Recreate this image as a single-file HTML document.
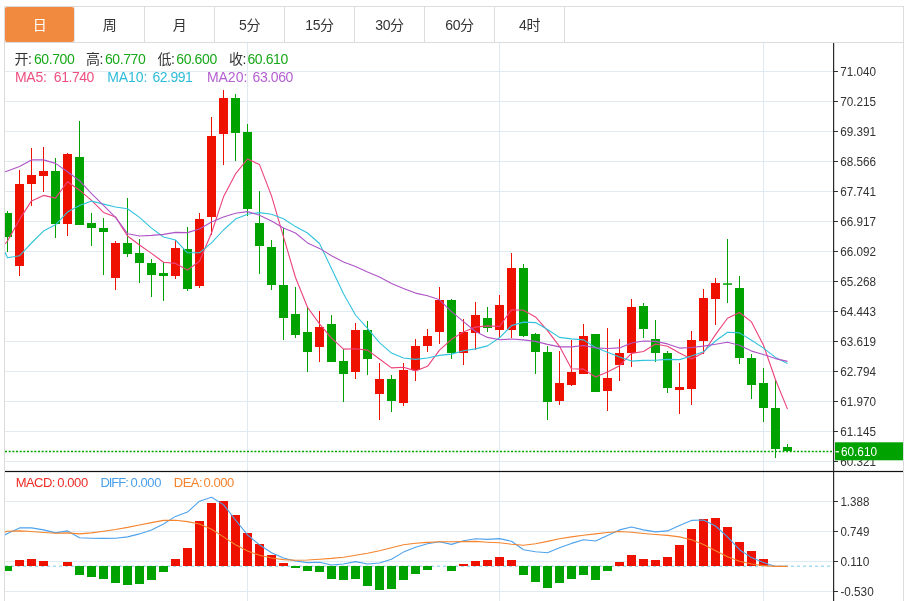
<!DOCTYPE html>
<html lang="zh"><head><meta charset="utf-8"><title>K线图</title>
<style>
html,body{margin:0;padding:0;background:#fff;}
body{width:909px;height:601px;overflow:hidden;position:relative;font-family:"Liberation Sans","Noto Sans CJK SC",sans-serif;}
svg{position:absolute;left:0;top:0;display:block}
text{font-family:"Liberation Sans","Noto Sans CJK SC",sans-serif;}
.ax{font-size:13px;fill:#333}
.tab{font-size:14px;fill:#333;text-anchor:middle;letter-spacing:-0.4px}
.l1{font-size:14px;letter-spacing:-0.4px}
.l3{font-size:13px;letter-spacing:-0.4px}
</style></head><body>
<svg width="909" height="601" viewBox="0 0 909 601">
<g shape-rendering="crispEdges">
<rect x="4" y="6" width="900" height="1" fill="#dcdcdc"/>
<rect x="4" y="6" width="1" height="595" fill="#dcdcdc"/>
<rect x="903" y="6" width="1" height="595" fill="#dcdcdc"/>
<rect x="5" y="42" width="898" height="1" fill="#dcdcdc"/>
<rect x="144" y="7" width="1" height="35" fill="#dcdcdc"/>
<rect x="214" y="7" width="1" height="35" fill="#dcdcdc"/>
<rect x="284" y="7" width="1" height="35" fill="#dcdcdc"/>
<rect x="354" y="7" width="1" height="35" fill="#dcdcdc"/>
<rect x="424" y="7" width="1" height="35" fill="#dcdcdc"/>
<rect x="494" y="7" width="1" height="35" fill="#dcdcdc"/>
<rect x="564" y="7" width="1" height="35" fill="#dcdcdc"/>
</g>
<rect x="74" y="7" width="1" height="35" fill="#e4e4e4" shape-rendering="crispEdges"/>
<rect x="5" y="7" width="69" height="35" rx="2" ry="2" fill="#f18a3e"/>
<text class="tab" x="39.5" y="30" fill="#fff" style="fill:#fff">日</text>
<text class="tab" x="109.5" y="30" fill="#333" style="fill:#333">周</text>
<text class="tab" x="179.5" y="30" fill="#333" style="fill:#333">月</text>
<text class="tab" x="249.5" y="30" fill="#333" style="fill:#333">5分</text>
<text class="tab" x="319.5" y="30" fill="#333" style="fill:#333">15分</text>
<text class="tab" x="389.5" y="30" fill="#333" style="fill:#333">30分</text>
<text class="tab" x="459.5" y="30" fill="#333" style="fill:#333">60分</text>
<text class="tab" x="529.5" y="30" fill="#333" style="fill:#333">4时</text>
<g shape-rendering="crispEdges" fill="#dfeaf2">
<rect x="5" y="71" width="828" height="1"/>
<rect x="5" y="101" width="828" height="1"/>
<rect x="5" y="131" width="828" height="1"/>
<rect x="5" y="161" width="828" height="1"/>
<rect x="5" y="191" width="828" height="1"/>
<rect x="5" y="221" width="828" height="1"/>
<rect x="5" y="251" width="828" height="1"/>
<rect x="5" y="281" width="828" height="1"/>
<rect x="5" y="311" width="828" height="1"/>
<rect x="5" y="341" width="828" height="1"/>
<rect x="5" y="371" width="828" height="1"/>
<rect x="5" y="401" width="828" height="1"/>
<rect x="5" y="431" width="828" height="1"/>
<rect x="5" y="461" width="828" height="1"/>
<rect x="5" y="501" width="828" height="1"/>
<rect x="5" y="531" width="828" height="1"/>
<rect x="5" y="561" width="828" height="1"/>
<rect x="5" y="591" width="828" height="1"/>
<rect x="247" y="43" width="1" height="558"/>
<rect x="499" y="43" width="1" height="558"/>
<rect x="763" y="43" width="1" height="558"/>
</g>
<defs><clipPath id="c"><rect x="5" y="43" width="828" height="558"/></clipPath></defs>
<g clip-path="url(#c)">
<line x1="5" y1="566.2" x2="833" y2="566.2" stroke="#a6d9f2" stroke-width="1.5" stroke-dasharray="3,3"/>
<g shape-rendering="crispEdges">
<rect x="7" y="211" width="1" height="41" fill="#00a200"/><rect x="3" y="213" width="9" height="24" fill="#00a200"/>
<rect x="19" y="170" width="1" height="106" fill="#ee1100"/><rect x="15" y="184" width="9" height="82" fill="#ee1100"/>
<rect x="31" y="148" width="1" height="58" fill="#ee1100"/><rect x="27" y="175" width="9" height="9" fill="#ee1100"/>
<rect x="43" y="147" width="1" height="45" fill="#ee1100"/><rect x="39" y="171" width="9" height="5" fill="#ee1100"/>
<rect x="55" y="158" width="1" height="80" fill="#00a200"/><rect x="51" y="171" width="9" height="53" fill="#00a200"/>
<rect x="67" y="153" width="1" height="83" fill="#ee1100"/><rect x="63" y="154" width="9" height="70" fill="#ee1100"/>
<rect x="79" y="121" width="1" height="104" fill="#00a200"/><rect x="75" y="157" width="9" height="68" fill="#00a200"/>
<rect x="91" y="213" width="1" height="33" fill="#00a200"/><rect x="87" y="223" width="9" height="5" fill="#00a200"/>
<rect x="103" y="218" width="1" height="57" fill="#00a200"/><rect x="99" y="228" width="9" height="4" fill="#00a200"/>
<rect x="115" y="241" width="1" height="49" fill="#ee1100"/><rect x="111" y="243" width="9" height="35" fill="#ee1100"/>
<rect x="127" y="198" width="1" height="59" fill="#00a200"/><rect x="123" y="243" width="9" height="11" fill="#00a200"/>
<rect x="139" y="239" width="1" height="44" fill="#00a200"/><rect x="135" y="253" width="9" height="10" fill="#00a200"/>
<rect x="151" y="259" width="1" height="38" fill="#00a200"/><rect x="147" y="263" width="9" height="12" fill="#00a200"/>
<rect x="163" y="262" width="1" height="39" fill="#00a200"/><rect x="159" y="273" width="9" height="3" fill="#00a200"/>
<rect x="175" y="240" width="1" height="39" fill="#ee1100"/><rect x="171" y="248" width="9" height="28" fill="#ee1100"/>
<rect x="187" y="227" width="1" height="64" fill="#00a200"/><rect x="183" y="249" width="9" height="40" fill="#00a200"/>
<rect x="199" y="213" width="1" height="75" fill="#ee1100"/><rect x="195" y="219" width="9" height="67" fill="#ee1100"/>
<rect x="211" y="117" width="1" height="118" fill="#ee1100"/><rect x="207" y="136" width="9" height="81" fill="#ee1100"/>
<rect x="223" y="90" width="1" height="75" fill="#ee1100"/><rect x="219" y="98" width="9" height="36" fill="#ee1100"/>
<rect x="235" y="94" width="1" height="67" fill="#00a200"/><rect x="231" y="98" width="9" height="35" fill="#00a200"/>
<rect x="247" y="124" width="1" height="92" fill="#00a200"/><rect x="243" y="132" width="9" height="77" fill="#00a200"/>
<rect x="259" y="191" width="1" height="83" fill="#00a200"/><rect x="255" y="223" width="9" height="23" fill="#00a200"/>
<rect x="271" y="240" width="1" height="50" fill="#00a200"/><rect x="267" y="247" width="9" height="38" fill="#00a200"/>
<rect x="283" y="228" width="1" height="112" fill="#00a200"/><rect x="279" y="285" width="9" height="33" fill="#00a200"/>
<rect x="295" y="287" width="1" height="51" fill="#00a200"/><rect x="291" y="314" width="9" height="21" fill="#00a200"/>
<rect x="307" y="307" width="1" height="65" fill="#00a200"/><rect x="303" y="332" width="9" height="20" fill="#00a200"/>
<rect x="319" y="311" width="1" height="51" fill="#ee1100"/><rect x="315" y="327" width="9" height="20" fill="#ee1100"/>
<rect x="331" y="315" width="1" height="47" fill="#00a200"/><rect x="327" y="324" width="9" height="38" fill="#00a200"/>
<rect x="343" y="349" width="1" height="53" fill="#00a200"/><rect x="339" y="361" width="9" height="13" fill="#00a200"/>
<rect x="355" y="323" width="1" height="56" fill="#ee1100"/><rect x="351" y="330" width="9" height="42" fill="#ee1100"/>
<rect x="367" y="321" width="1" height="54" fill="#00a200"/><rect x="363" y="330" width="9" height="29" fill="#00a200"/>
<rect x="379" y="363" width="1" height="57" fill="#ee1100"/><rect x="375" y="379" width="9" height="15" fill="#ee1100"/>
<rect x="391" y="375" width="1" height="37" fill="#00a200"/><rect x="387" y="379" width="9" height="22" fill="#00a200"/>
<rect x="403" y="363" width="1" height="43" fill="#ee1100"/><rect x="399" y="370" width="9" height="33" fill="#ee1100"/>
<rect x="415" y="339" width="1" height="42" fill="#ee1100"/><rect x="411" y="346" width="9" height="24" fill="#ee1100"/>
<rect x="427" y="329" width="1" height="23" fill="#ee1100"/><rect x="423" y="336" width="9" height="10" fill="#ee1100"/>
<rect x="439" y="287" width="1" height="57" fill="#ee1100"/><rect x="435" y="300" width="9" height="32" fill="#ee1100"/>
<rect x="451" y="299" width="1" height="60" fill="#00a200"/><rect x="447" y="300" width="9" height="53" fill="#00a200"/>
<rect x="463" y="319" width="1" height="46" fill="#ee1100"/><rect x="459" y="332" width="9" height="21" fill="#ee1100"/>
<rect x="475" y="302" width="1" height="48" fill="#ee1100"/><rect x="471" y="315" width="9" height="18" fill="#ee1100"/>
<rect x="487" y="307" width="1" height="25" fill="#00a200"/><rect x="483" y="318" width="9" height="10" fill="#00a200"/>
<rect x="499" y="295" width="1" height="43" fill="#ee1100"/><rect x="495" y="305" width="9" height="25" fill="#ee1100"/>
<rect x="511" y="253" width="1" height="85" fill="#ee1100"/><rect x="507" y="268" width="9" height="62" fill="#ee1100"/>
<rect x="523" y="264" width="1" height="73" fill="#00a200"/><rect x="519" y="268" width="9" height="68" fill="#00a200"/>
<rect x="535" y="333" width="1" height="41" fill="#00a200"/><rect x="531" y="334" width="9" height="18" fill="#00a200"/>
<rect x="547" y="346" width="1" height="74" fill="#00a200"/><rect x="543" y="352" width="9" height="50" fill="#00a200"/>
<rect x="559" y="351" width="1" height="54" fill="#ee1100"/><rect x="555" y="383" width="9" height="18" fill="#ee1100"/>
<rect x="571" y="340" width="1" height="46" fill="#ee1100"/><rect x="567" y="372" width="9" height="13" fill="#ee1100"/>
<rect x="583" y="324" width="1" height="50" fill="#ee1100"/><rect x="579" y="336" width="9" height="38" fill="#ee1100"/>
<rect x="595" y="334" width="1" height="58" fill="#00a200"/><rect x="591" y="334" width="9" height="58" fill="#00a200"/>
<rect x="607" y="328" width="1" height="83" fill="#ee1100"/><rect x="603" y="378" width="9" height="13" fill="#ee1100"/>
<rect x="619" y="339" width="1" height="42" fill="#ee1100"/><rect x="615" y="353" width="9" height="12" fill="#ee1100"/>
<rect x="631" y="299" width="1" height="68" fill="#ee1100"/><rect x="627" y="307" width="9" height="46" fill="#ee1100"/>
<rect x="643" y="303" width="1" height="35" fill="#00a200"/><rect x="639" y="306" width="9" height="23" fill="#00a200"/>
<rect x="655" y="320" width="1" height="42" fill="#00a200"/><rect x="651" y="339" width="9" height="14" fill="#00a200"/>
<rect x="667" y="351" width="1" height="42" fill="#00a200"/><rect x="663" y="353" width="9" height="35" fill="#00a200"/>
<rect x="679" y="363" width="1" height="51" fill="#ee1100"/><rect x="675" y="387" width="9" height="3" fill="#ee1100"/>
<rect x="691" y="331" width="1" height="74" fill="#ee1100"/><rect x="687" y="340" width="9" height="49" fill="#ee1100"/>
<rect x="703" y="289" width="1" height="65" fill="#ee1100"/><rect x="699" y="298" width="9" height="43" fill="#ee1100"/>
<rect x="715" y="278" width="1" height="47" fill="#ee1100"/><rect x="711" y="283" width="9" height="16" fill="#ee1100"/>
</g><rect x="723" y="283.3" width="9" height="1.5" fill="#00a200"/><g shape-rendering="crispEdges">
<rect x="727" y="239" width="1" height="64" fill="#00a200"/>
<rect x="739" y="276" width="1" height="88" fill="#00a200"/><rect x="735" y="288" width="9" height="70" fill="#00a200"/>
<rect x="751" y="354" width="1" height="45" fill="#00a200"/><rect x="747" y="358" width="9" height="27" fill="#00a200"/>
<rect x="763" y="368" width="1" height="54" fill="#00a200"/><rect x="759" y="383" width="9" height="25" fill="#00a200"/>
<rect x="775" y="380" width="1" height="78" fill="#00a200"/><rect x="771" y="408" width="9" height="41" fill="#00a200"/>
<rect x="787" y="444" width="1" height="8" fill="#00a200"/><rect x="783" y="447" width="9" height="4" fill="#00a200"/>
<rect x="3" y="566" width="9" height="5" fill="#00a200"/>
<rect x="15" y="560" width="9" height="6" fill="#ee1100"/>
<rect x="27" y="559" width="9" height="7" fill="#ee1100"/>
<rect x="39" y="561" width="9" height="5" fill="#ee1100"/>
<rect x="63" y="562" width="9" height="4" fill="#ee1100"/>
<rect x="75" y="566" width="9" height="9" fill="#00a200"/>
<rect x="87" y="566" width="9" height="11" fill="#00a200"/>
<rect x="99" y="566" width="9" height="13" fill="#00a200"/>
<rect x="111" y="566" width="9" height="17" fill="#00a200"/>
<rect x="123" y="566" width="9" height="19" fill="#00a200"/>
<rect x="135" y="566" width="9" height="18" fill="#00a200"/>
<rect x="147" y="566" width="9" height="14" fill="#00a200"/>
<rect x="159" y="566" width="9" height="6" fill="#00a200"/>
<rect x="171" y="559" width="9" height="7" fill="#ee1100"/>
<rect x="183" y="548" width="9" height="18" fill="#ee1100"/>
<rect x="195" y="521" width="9" height="45" fill="#ee1100"/>
<rect x="207" y="503" width="9" height="63" fill="#ee1100"/>
<rect x="219" y="501" width="9" height="65" fill="#ee1100"/>
<rect x="231" y="515" width="9" height="51" fill="#ee1100"/>
<rect x="243" y="533" width="9" height="33" fill="#ee1100"/>
<rect x="255" y="544" width="9" height="22" fill="#ee1100"/>
<rect x="267" y="555" width="9" height="11" fill="#ee1100"/>
<rect x="279" y="563" width="9" height="3" fill="#ee1100"/>
<rect x="291" y="566" width="9" height="2" fill="#00a200"/>
<rect x="303" y="566" width="9" height="5" fill="#00a200"/>
<rect x="315" y="566" width="9" height="6" fill="#00a200"/>
<rect x="327" y="566" width="9" height="13" fill="#00a200"/>
<rect x="339" y="566" width="9" height="14" fill="#00a200"/>
<rect x="351" y="566" width="9" height="13" fill="#00a200"/>
<rect x="363" y="566" width="9" height="20" fill="#00a200"/>
<rect x="375" y="566" width="9" height="24" fill="#00a200"/>
<rect x="387" y="566" width="9" height="23" fill="#00a200"/>
<rect x="399" y="566" width="9" height="14" fill="#00a200"/>
<rect x="411" y="566" width="9" height="8" fill="#00a200"/>
<rect x="423" y="566" width="9" height="4" fill="#00a200"/>
<rect x="447" y="566" width="9" height="5" fill="#00a200"/>
<rect x="459" y="564" width="9" height="2" fill="#ee1100"/>
<rect x="471" y="561" width="9" height="5" fill="#ee1100"/>
<rect x="483" y="560" width="9" height="6" fill="#ee1100"/>
<rect x="495" y="557" width="9" height="9" fill="#ee1100"/>
<rect x="507" y="560" width="9" height="6" fill="#ee1100"/>
<rect x="519" y="566" width="9" height="9" fill="#00a200"/>
<rect x="531" y="566" width="9" height="16" fill="#00a200"/>
<rect x="543" y="566" width="9" height="22" fill="#00a200"/>
<rect x="555" y="566" width="9" height="17" fill="#00a200"/>
<rect x="567" y="566" width="9" height="13" fill="#00a200"/>
<rect x="579" y="566" width="9" height="9" fill="#00a200"/>
<rect x="591" y="566" width="9" height="14" fill="#00a200"/>
<rect x="603" y="566" width="9" height="5" fill="#00a200"/>
<rect x="615" y="562" width="9" height="4" fill="#ee1100"/>
<rect x="627" y="555" width="9" height="11" fill="#ee1100"/>
<rect x="639" y="559" width="9" height="7" fill="#ee1100"/>
<rect x="651" y="560" width="9" height="6" fill="#ee1100"/>
<rect x="663" y="557" width="9" height="9" fill="#ee1100"/>
<rect x="675" y="545" width="9" height="21" fill="#ee1100"/>
<rect x="687" y="529" width="9" height="37" fill="#ee1100"/>
<rect x="699" y="519" width="9" height="47" fill="#ee1100"/>
<rect x="711" y="518" width="9" height="48" fill="#ee1100"/>
<rect x="723" y="527" width="9" height="39" fill="#ee1100"/>
<rect x="735" y="542" width="9" height="24" fill="#ee1100"/>
<rect x="747" y="551" width="9" height="15" fill="#ee1100"/>
<rect x="759" y="559" width="9" height="7" fill="#ee1100"/>
</g>
<polyline points="5.0,244.0 7.5,241.0 19.5,219.4 31.5,200.9 43.5,195.4 55.5,198.1 67.5,181.7 79.5,190.2 91.5,200.4 103.5,212.4 115.5,216.9 127.5,236.0 139.5,245.0 151.5,253.4 163.5,262.2 175.5,263.4 187.5,270.0 199.5,261.3 211.5,233.0 223.5,196.8 235.5,173.9 247.5,159.0 259.5,164.6 271.5,195.9 283.5,236.9 295.5,277.5 307.5,307.2 319.5,323.9 331.5,338.2 343.5,349.1 355.5,348.7 367.5,350.1 379.5,359.0 391.5,367.9 403.5,367.3 415.5,370.9 427.5,366.3 439.5,350.2 451.5,339.3 463.5,331.9 475.5,327.1 487.5,325.9 499.5,326.5 511.5,309.7 523.5,310.3 535.5,316.9 547.5,330.7 559.5,346.3 571.5,368.7 583.5,369.1 595.5,377.0 607.5,372.1 619.5,365.7 631.5,353.4 643.5,351.5 655.5,344.0 667.5,346.2 679.5,353.0 691.5,359.0 703.5,352.7 715.5,334.6 727.5,318.2 739.5,312.5 751.5,321.9 763.5,345.2 775.5,379.8 787.5,409.1" fill="none" stroke="#ec427c" stroke-width="1.1" stroke-linejoin="round"/>
<polyline points="5.0,252.3 7.5,257.8 19.5,255.8 31.5,243.0 43.5,231.1 55.5,224.8 67.5,212.1 79.5,205.4 91.5,201.1 103.5,204.1 115.5,207.0 127.5,208.7 139.5,217.4 151.5,228.1 163.5,237.0 175.5,240.0 187.5,252.8 199.5,252.8 211.5,242.9 223.5,230.0 235.5,219.1 247.5,214.2 259.5,212.6 271.5,214.2 283.5,218.7 295.5,226.6 307.5,233.0 319.5,243.5 331.5,268.6 343.5,293.8 355.5,315.0 367.5,328.4 379.5,342.6 391.5,353.1 403.5,358.0 415.5,359.4 427.5,358.0 439.5,355.4 451.5,354.1 463.5,350.7 475.5,348.9 487.5,345.9 499.5,337.8 511.5,325.6 523.5,322.1 535.5,322.6 547.5,329.5 559.5,337.4 571.5,338.9 583.5,339.9 595.5,347.5 607.5,352.3 619.5,357.1 631.5,361.1 643.5,360.4 655.5,360.3 667.5,359.4 679.5,359.6 691.5,356.0 703.5,351.7 715.5,341.0 727.5,332.3 739.5,332.9 751.5,340.2 763.5,348.1 775.5,357.4 787.5,363.6" fill="none" stroke="#32c3dd" stroke-width="1.1" stroke-linejoin="round"/>
<polyline points="5.0,171.8 7.5,170.9 19.5,166.4 31.5,159.9 43.5,159.9 55.5,163.4 67.5,171.8 79.5,180.7 91.5,193.6 103.5,205.4 115.5,217.4 127.5,233.7 139.5,236.0 151.5,235.4 163.5,234.4 175.5,232.4 187.5,232.6 199.5,229.0 211.5,222.1 223.5,217.1 235.5,213.2 247.5,211.6 259.5,215.2 271.5,221.1 283.5,228.0 295.5,233.0 307.5,242.9 319.5,248.4 331.5,255.7 343.5,262.1 355.5,266.6 367.5,272.1 379.5,277.0 391.5,283.6 403.5,288.5 415.5,293.1 427.5,295.8 439.5,299.8 451.5,311.7 463.5,321.6 475.5,331.5 487.5,337.4 499.5,339.8 511.5,339.0 523.5,339.9 535.5,341.4 547.5,344.4 559.5,346.9 571.5,346.9 583.5,345.5 595.5,347.9 607.5,348.5 619.5,347.9 631.5,343.0 643.5,341.0 655.5,341.4 667.5,343.9 679.5,348.1 691.5,347.5 703.5,346.1 715.5,344.2 727.5,342.2 739.5,345.2 751.5,351.1 763.5,354.5 775.5,358.6 787.5,361.4" fill="none" stroke="#ae55c6" stroke-width="1.1" stroke-linejoin="round"/>
<polyline points="5.0,534.9 7.5,533.5 19.5,527.9 31.5,527.9 43.5,529.9 55.5,532.9 67.5,530.9 79.5,537.8 91.5,538.2 103.5,538.4 115.5,538.2 127.5,536.9 139.5,533.9 151.5,529.9 163.5,524.0 175.5,516.4 187.5,512.1 199.5,501.2 211.5,497.3 223.5,504.6 235.5,520.0 247.5,534.9 259.5,544.8 271.5,552.7 283.5,558.0 295.5,561.0 307.5,562.6 319.5,562.2 331.5,565.0 343.5,564.0 355.5,561.6 367.5,564.0 379.5,563.0 391.5,559.2 403.5,552.1 415.5,547.2 427.5,543.8 439.5,541.8 451.5,544.4 463.5,540.8 475.5,538.8 487.5,539.4 499.5,538.6 511.5,541.2 523.5,549.7 535.5,551.7 547.5,552.7 559.5,547.7 571.5,543.4 583.5,539.8 595.5,541.0 607.5,535.5 619.5,529.9 631.5,527.0 643.5,529.9 655.5,531.9 667.5,530.9 679.5,525.4 691.5,520.4 703.5,520.0 715.5,526.0 727.5,536.9 739.5,549.7 751.5,557.6 763.5,562.6 775.5,566.4 787.5,566.4" fill="none" stroke="#4ea2ec" stroke-width="1.1" stroke-linejoin="round"/>
<polyline points="5.0,531.9 7.5,531.3 19.5,530.9 31.5,531.5 43.5,532.5 55.5,533.3 67.5,532.9 79.5,533.9 91.5,532.9 103.5,531.3 115.5,529.5 127.5,527.4 139.5,525.0 151.5,522.6 163.5,520.4 175.5,520.2 187.5,521.6 199.5,524.0 211.5,529.3 223.5,536.9 235.5,544.8 247.5,551.1 259.5,555.3 271.5,558.0 283.5,559.6 295.5,560.2 307.5,560.0 319.5,559.2 331.5,558.4 343.5,557.2 355.5,555.3 367.5,553.3 379.5,550.7 391.5,547.7 403.5,544.8 415.5,543.2 427.5,542.4 439.5,541.8 451.5,541.8 463.5,541.6 475.5,541.4 487.5,542.2 499.5,542.8 511.5,544.2 523.5,545.2 535.5,543.8 547.5,541.4 559.5,538.8 571.5,536.9 583.5,535.3 595.5,533.9 607.5,532.5 619.5,531.5 631.5,532.3 643.5,533.5 655.5,534.5 667.5,535.4 679.5,536.9 691.5,539.8 703.5,544.4 715.5,550.7 727.5,556.7 739.5,561.2 751.5,564.0 763.5,565.6 775.5,566.4 787.5,566.4" fill="none" stroke="#f5842e" stroke-width="1.1" stroke-linejoin="round"/>
</g>
<line x1="5" y1="451.5" x2="832" y2="451.5" stroke="#00a200" stroke-width="1.35" stroke-dasharray="2,1.667"/>
<g shape-rendering="crispEdges">
</g><rect x="5" y="470.9" width="898" height="1.2" fill="#111"/><g shape-rendering="crispEdges">
</g><rect x="833" y="43" width="1.2" height="558" fill="#2a2a2a"/><g shape-rendering="crispEdges">
<rect x="834" y="71" width="4" height="1" fill="#333"/>
<rect x="834" y="101" width="4" height="1" fill="#333"/>
<rect x="834" y="131" width="4" height="1" fill="#333"/>
<rect x="834" y="161" width="4" height="1" fill="#333"/>
<rect x="834" y="191" width="4" height="1" fill="#333"/>
<rect x="834" y="221" width="4" height="1" fill="#333"/>
<rect x="834" y="251" width="4" height="1" fill="#333"/>
<rect x="834" y="281" width="4" height="1" fill="#333"/>
<rect x="834" y="311" width="4" height="1" fill="#333"/>
<rect x="834" y="341" width="4" height="1" fill="#333"/>
<rect x="834" y="371" width="4" height="1" fill="#333"/>
<rect x="834" y="401" width="4" height="1" fill="#333"/>
<rect x="834" y="431" width="4" height="1" fill="#333"/>
<rect x="834" y="461" width="4" height="1" fill="#333"/>
<rect x="834" y="501" width="4" height="1" fill="#333"/>
<rect x="834" y="531" width="4" height="1" fill="#333"/>
<rect x="834" y="561" width="4" height="1" fill="#333"/>
<rect x="834" y="591" width="4" height="1" fill="#333"/>
</g>
<text class="ax" x="840.3" y="75.8" textLength="35.8" lengthAdjust="spacingAndGlyphs">71.040</text>
<text class="ax" x="840.3" y="105.8" textLength="35.8" lengthAdjust="spacingAndGlyphs">70.215</text>
<text class="ax" x="840.3" y="135.8" textLength="35.8" lengthAdjust="spacingAndGlyphs">69.391</text>
<text class="ax" x="840.3" y="165.8" textLength="35.8" lengthAdjust="spacingAndGlyphs">68.566</text>
<text class="ax" x="840.3" y="195.8" textLength="35.8" lengthAdjust="spacingAndGlyphs">67.741</text>
<text class="ax" x="840.3" y="225.8" textLength="35.8" lengthAdjust="spacingAndGlyphs">66.917</text>
<text class="ax" x="840.3" y="255.8" textLength="35.8" lengthAdjust="spacingAndGlyphs">66.092</text>
<text class="ax" x="840.3" y="285.8" textLength="35.8" lengthAdjust="spacingAndGlyphs">65.268</text>
<text class="ax" x="840.3" y="315.8" textLength="35.8" lengthAdjust="spacingAndGlyphs">64.443</text>
<text class="ax" x="840.3" y="345.8" textLength="35.8" lengthAdjust="spacingAndGlyphs">63.619</text>
<text class="ax" x="840.3" y="375.8" textLength="35.8" lengthAdjust="spacingAndGlyphs">62.794</text>
<text class="ax" x="840.3" y="405.8" textLength="35.8" lengthAdjust="spacingAndGlyphs">61.970</text>
<text class="ax" x="840.3" y="435.8" textLength="35.8" lengthAdjust="spacingAndGlyphs">61.145</text>
<text class="ax" x="840.3" y="465.8" textLength="35.8" lengthAdjust="spacingAndGlyphs">60.321</text>
<text class="ax" x="840.4" y="505.8" textLength="29" lengthAdjust="spacingAndGlyphs">1.388</text>
<text class="ax" x="840.4" y="535.8" textLength="29" lengthAdjust="spacingAndGlyphs">0.749</text>
<text class="ax" x="840.4" y="565.8" textLength="29" lengthAdjust="spacingAndGlyphs">0.110</text>
<text class="ax" x="840.4" y="595.8" textLength="33.3" lengthAdjust="spacingAndGlyphs">-0.530</text>
<rect x="835" y="442.3" width="68" height="18" fill="#00a200"/>
<rect x="835.5" y="451.1" width="3.5" height="1.3" fill="#fff"/>
<text class="ax" x="841" y="456" style="fill:#fff" textLength="36" lengthAdjust="spacingAndGlyphs">60.610</text>
<text class="l1" x="14.5" y="64.1" fill="#333">开:</text>
<text class="l1" x="34" y="64.1" fill="#18a818" textLength="40.3" lengthAdjust="spacing">60.700</text>
<text class="l1" x="86" y="64.1" fill="#333">高:</text>
<text class="l1" x="105" y="64.1" fill="#18a818" textLength="40.3" lengthAdjust="spacing">60.770</text>
<text class="l1" x="157.5" y="64.1" fill="#333">低:</text>
<text class="l1" x="176.3" y="64.1" fill="#18a818" textLength="40.5" lengthAdjust="spacing">60.600</text>
<text class="l1" x="229" y="64.1" fill="#333">收:</text>
<text class="l1" x="247.5" y="64.1" fill="#18a818" textLength="40.3" lengthAdjust="spacing">60.610</text>
<text class="l1" x="14.9" y="82.2" fill="#ee4f81" textLength="31.7" lengthAdjust="spacing">MA5:</text>
<text class="l1" x="53.8" y="82.2" fill="#ee4f81" textLength="40.2" lengthAdjust="spacing">61.740</text>
<text class="l1" x="107.3" y="82.2" fill="#2fbcd9" textLength="39.6" lengthAdjust="spacing">MA10:</text>
<text class="l1" x="152.5" y="82.2" fill="#2fbcd9" textLength="40" lengthAdjust="spacing">62.991</text>
<text class="l1" x="206.9" y="82.2" fill="#b35fd0" textLength="40" lengthAdjust="spacing">MA20:</text>
<text class="l1" x="252.5" y="82.2" fill="#b35fd0" textLength="40.5" lengthAdjust="spacing">63.060</text>
<text class="l3" x="15.7" y="487.2" fill="#ee2c25" textLength="39.3" lengthAdjust="spacing">MACD:</text>
<text class="l3" x="57.2" y="487.2" fill="#ee2c25" textLength="30.6" lengthAdjust="spacing">0.000</text>
<text class="l3" x="100.4" y="487.2" fill="#489fea" textLength="28" lengthAdjust="spacing">DIFF:</text>
<text class="l3" x="130.6" y="487.2" fill="#489fea" textLength="30.4" lengthAdjust="spacing">0.000</text>
<text class="l3" x="173.8" y="487.2" fill="#f5822d" textLength="28.3" lengthAdjust="spacing">DEA:</text>
<text class="l3" x="203.5" y="487.2" fill="#f5822d" textLength="30.3" lengthAdjust="spacing">0.000</text>
</svg></body></html>
